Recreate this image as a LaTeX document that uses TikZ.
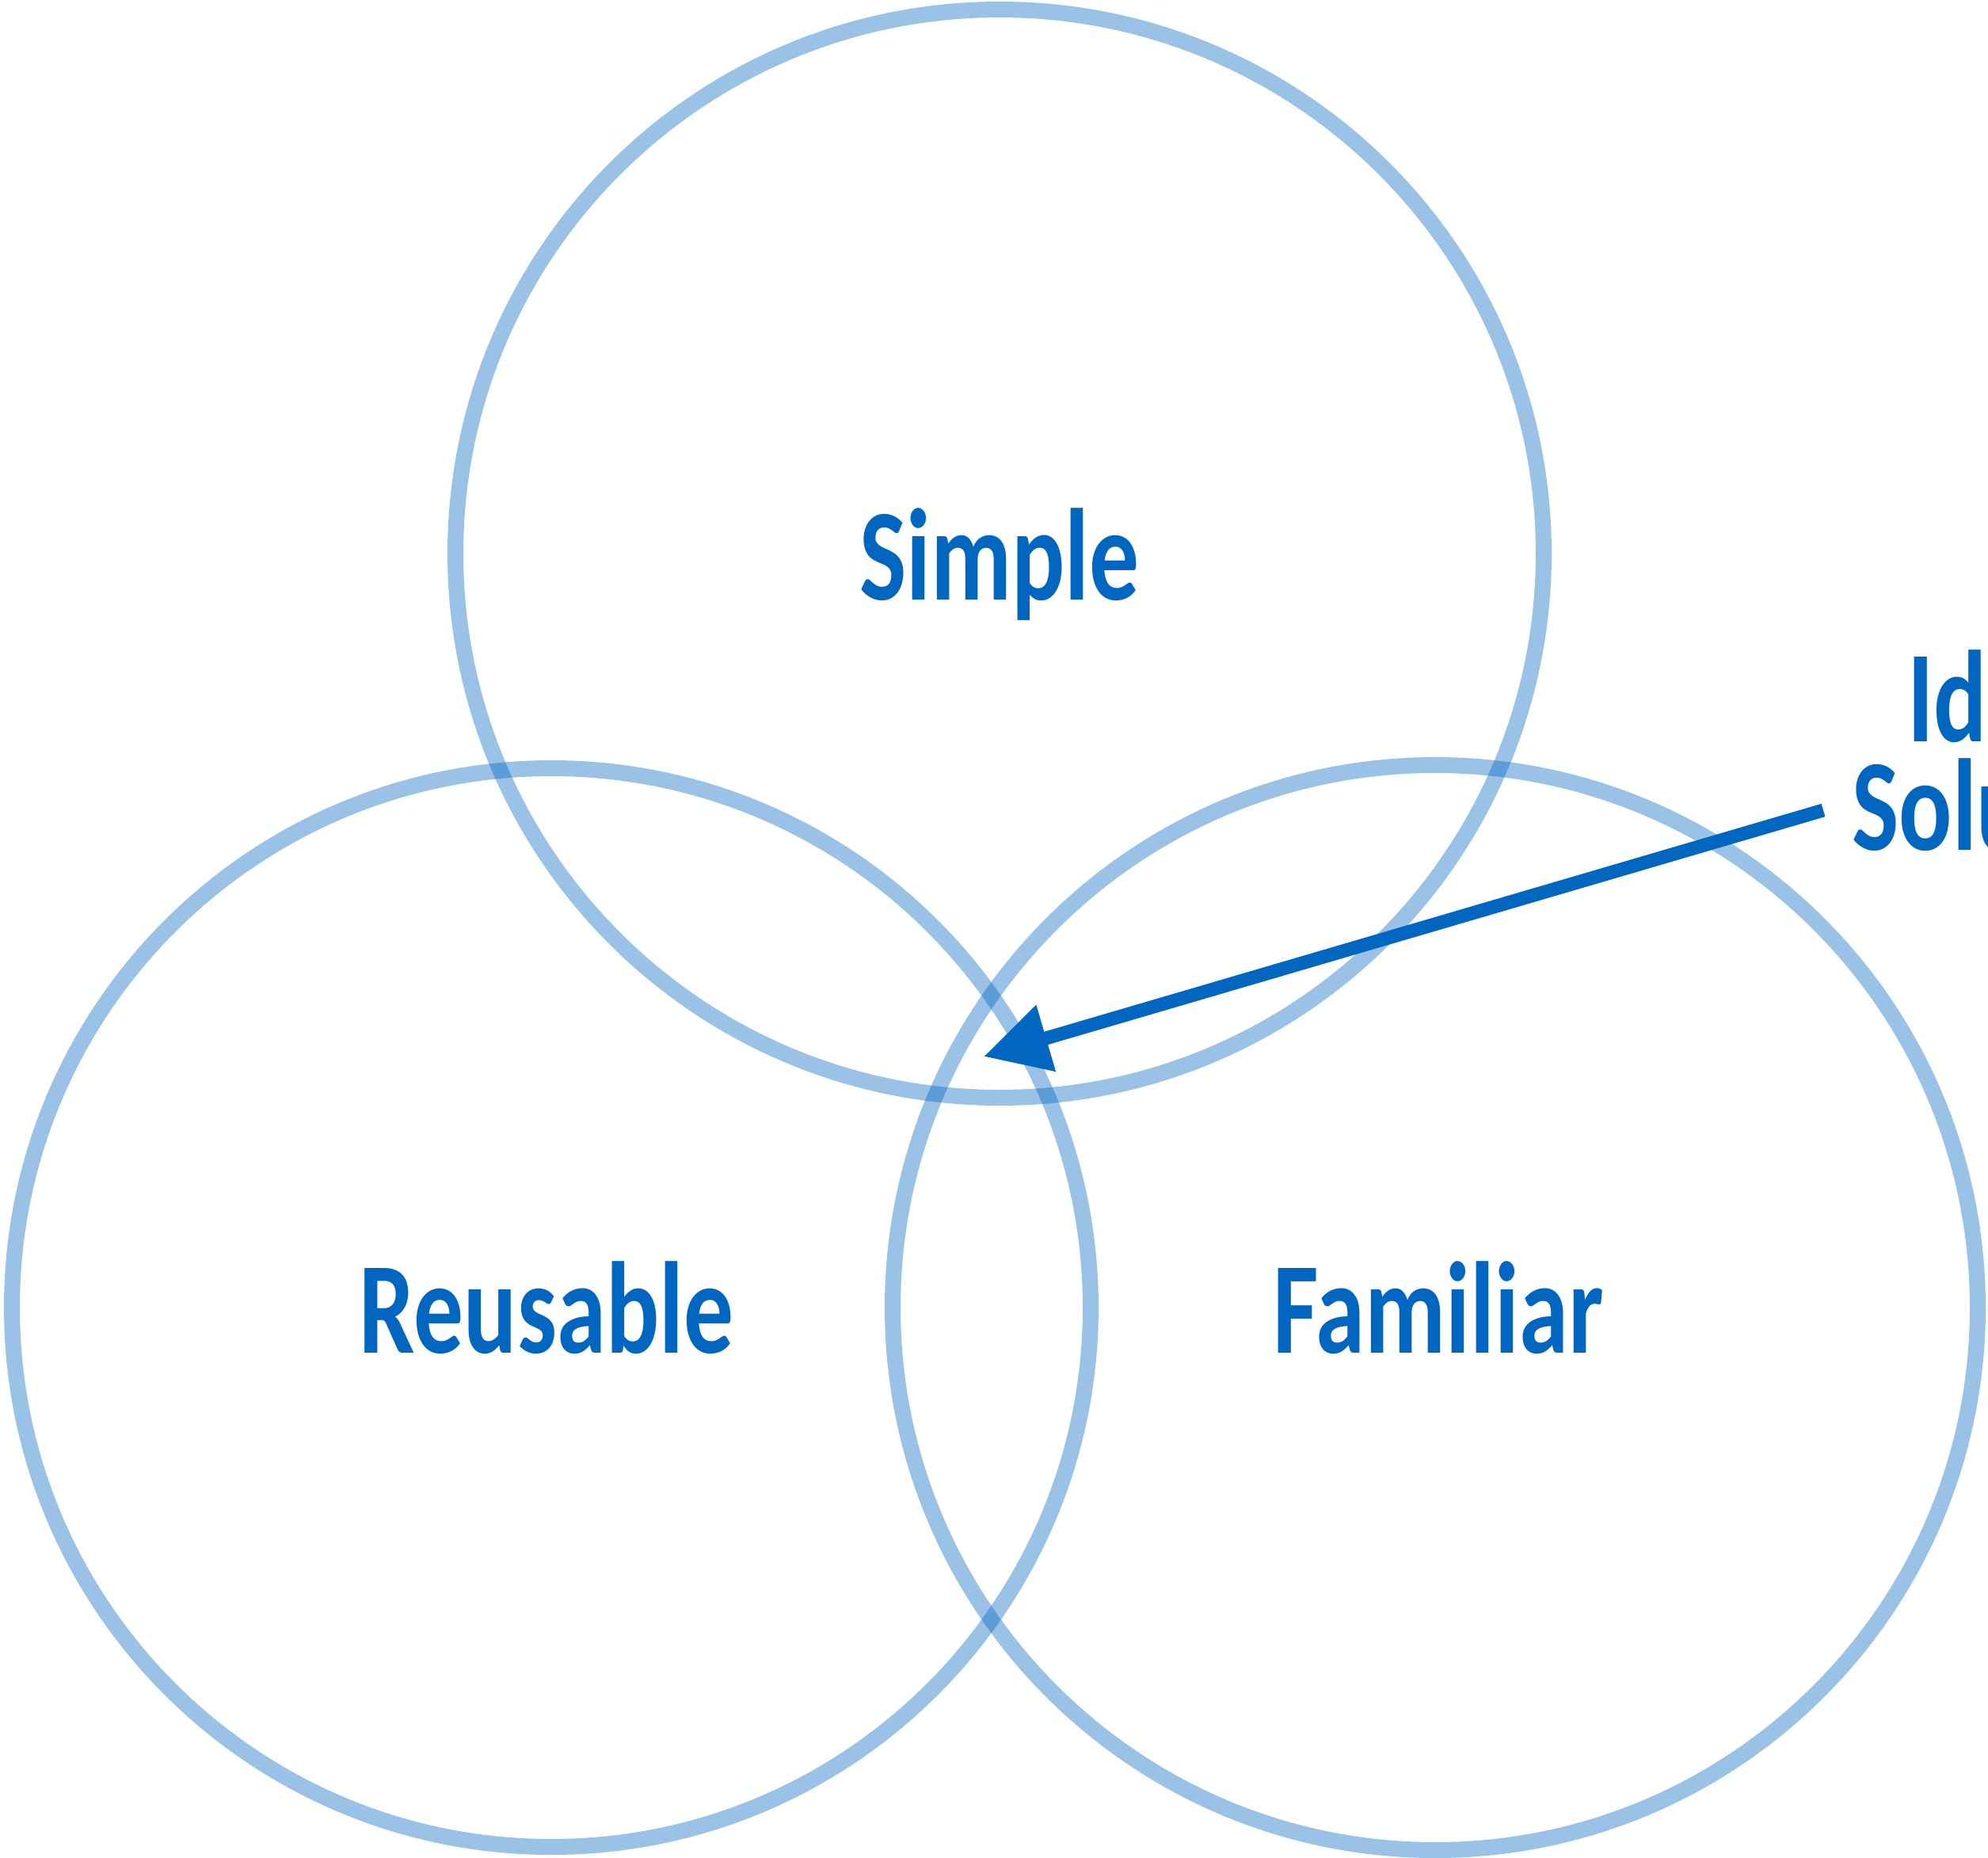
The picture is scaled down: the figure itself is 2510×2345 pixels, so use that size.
\documentclass[tikz,border=0pt]{standalone}
\usepackage{fontspec}
\setmainfont{Carlito}[UprightFont=* Bold, FakeStretch=0.76]
\usetikzlibrary{arrows.meta}
\definecolor{brandblue}{RGB}{0,102,192}
\tikzset{
  ring/.style={draw=brandblue, draw opacity=0.4, line width=20pt},
  label/.style={text=brandblue, inner sep=0pt, font=\fontsize{165}{137}\selectfont},
  pointer/.style={draw=brandblue, line width=17pt,
    -{Triangle[length=82pt, width=83pt]}},
}
\begin{document}
\begin{tikzpicture}[x=1pt, y=-1pt]
  \useasboundingbox (0,0) rectangle (2510,2345);
  % the three overlapping sets
  \draw[ring] (1262,699) circle[radius=687];
  \draw[ring] (696,1651) circle[radius=681];
  \draw[ring] (1812,1651) circle[radius=685];
  % set names
  \node[label, anchor=base] (simple) at (1262,757) {Simple};
  \node[label, anchor=base] (reusable) at (690,1708) {Reusable};
  \node[label, anchor=base] (familiar) at (1816,1708) {Familiar};
  % callout for the common region (base = baseline of the last line)
  \node[label, anchor=base west, align=center] (ideal) at (2338,1073) {Ideal\hspace*{36pt}\\Solution};
  \coordinate (tail) at (2302,1023);
  \coordinate (centre) at (1242,1334);
  \draw[pointer] (tail) -- (centre);
\end{tikzpicture}
\end{document}
